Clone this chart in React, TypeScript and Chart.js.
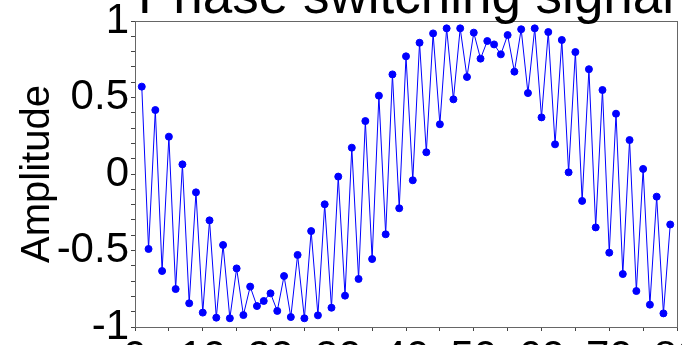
import { useEffect, useRef } from "react";
import { Chart, registerables } from "chart.js";

Chart.register(...registerables);

const TITLE = "Phase switching signal";
const Y_LABEL = "Amplitude";

// sample index starts at 1
const FIRST_SAMPLE = 1;
const AMPLITUDE = [
  0.571, -0.49, 0.418, -0.634, 0.244, -0.752, 0.063, -0.845, -0.12, -0.906,
  -0.303, -0.939, -0.464, -0.943, -0.617, -0.922, -0.736, -0.863, -0.83, -0.78,
  -0.895, -0.667, -0.935, -0.529, -0.943, -0.373, -0.924, -0.198, -0.874, -0.017,
  -0.795, 0.172, -0.686, 0.346, -0.556, 0.512, -0.394, 0.651, -0.224, 0.769,
  -0.041, 0.858, 0.142, 0.919, 0.325, 0.952, 0.488, 0.952, 0.634, 0.924,
  0.754, 0.869, 0.847, 0.782, 0.908, 0.669, 0.946, 0.529, 0.952, 0.37,
  0.928, 0.194, 0.876, 0.011, 0.797, -0.176, 0.685, -0.349, 0.549, -0.514,
  0.394, -0.654, 0.222, -0.765, 0.033, -0.854, -0.148, -0.911, -0.33,
];

const X_MIN = 0;
const X_MAX = 80;
const X_STEP = 5;
const X_LABEL_STEP = 10;
const Y_MIN = -1;
const Y_MAX = 1;
const Y_STEP = 0.1;
const Y_LABEL_STEP = 0.5;

const FONT = '"Liberation Sans", Arial, sans-serif';
const CANVAS_W = 682;
const CANVAS_H = 450;
const CANVAS_TOP = -50;

const titlePlugin = {
  id: "cutTitle",
  afterDraw(chart: any) {
    const { ctx, chartArea } = chart;
    ctx.save();
    ctx.font = `53px ${FONT}`;
    ctx.fillStyle = "#000";
    ctx.textAlign = "center";
    ctx.textBaseline = "alphabetic";
    ctx.fillText(TITLE, (chartArea.left + chartArea.right) / 2, chartArea.top - 8);
    ctx.restore();
  },
};

const framePlugin = {
  id: "frame",
  beforeDatasetsDraw(chart: any) {
    const { ctx, chartArea } = chart;
    ctx.save();
    ctx.strokeStyle = "#666";
    ctx.lineWidth = 1;
    ctx.strokeRect(
      Math.round(chartArea.left) + 0.5,
      Math.round(chartArea.top) + 0.5,
      Math.round(chartArea.right - chartArea.left),
      Math.round(chartArea.bottom - chartArea.top)
    );
    ctx.restore();
  },
};

function isMultiple(v: number, step: number) {
  const r = v / step;
  return Math.abs(r - Math.round(r)) < 1e-6;
}

export default function App() {
  const ref = useRef<HTMLCanvasElement | null>(null);

  useEffect(() => {
    if (!ref.current) return;
    const points = AMPLITUDE.map((y, i) => ({ x: FIRST_SAMPLE + i, y }));
    const chart = new Chart(ref.current, {
      type: "line",
      data: {
        datasets: [
          {
            data: points,
            borderColor: "#0000ff",
            backgroundColor: "#0000ff",
            borderWidth: 1,
            pointRadius: 3.5,
            pointBorderWidth: 1,
            pointBackgroundColor: "#0000ff",
            pointBorderColor: "#0000ff",
            tension: 0,
            fill: false,
          },
        ],
      },
      options: {
        animation: false,
        responsive: false,
        maintainAspectRatio: false,
        devicePixelRatio: 1,
        layout: { padding: { top: 71, right: 5, bottom: 0, left: 0 } },
        plugins: {
          legend: { display: false },
          tooltip: { enabled: false },
          title: { display: false },
        },
        scales: {
          x: {
            type: "linear",
            min: X_MIN,
            max: X_MAX,
            afterFit: (s: any) => {
              s.height = 73;
              s.paddingLeft = 0;
              s.paddingRight = 0;
            },
            grid: {
              drawOnChartArea: false,
              tickLength: 4,
              color: "#444",
            },
            border: { display: true, color: "#444", width: 1 },
            ticks: {
              stepSize: X_STEP,
              autoSkip: false,
              maxRotation: 0,
              minRotation: 0,
              padding: 2,
              color: "#000",
              font: { family: FONT, size: 42 },
              callback: (v: any) => (isMultiple(Number(v), X_LABEL_STEP) ? String(Math.round(Number(v))) : ""),
            },
          },
          y: {
            type: "linear",
            min: Y_MIN,
            max: Y_MAX,
            afterFit: (s: any) => {
              s.width = 135;
              s.paddingTop = 0;
              s.paddingBottom = 0;
            },
            grid: {
              drawOnChartArea: false,
              tickLength: 4,
              color: "#444",
            },
            border: { display: true, color: "#444", width: 1 },
            title: {
              display: true,
              text: Y_LABEL,
              color: "#000",
              font: { family: FONT, size: 40 },
              padding: { top: 14, bottom: 0 },
            },
            ticks: {
              stepSize: Y_STEP,
              autoSkip: false,
              padding: 2,
              color: "#000",
              font: { family: FONT, size: 42 },
              callback: (v: any) => {
                const n = Number(v);
                if (!isMultiple(n, Y_LABEL_STEP)) return "";
                return String(Math.round(n * 10) / 10);
              },
            },
          },
        },
      },
      plugins: [framePlugin, titlePlugin],
    });
    return () => chart.destroy();
  }, []);

  return (
    <div
      style={{
        position: "fixed",
        left: 0,
        top: CANVAS_TOP,
        width: CANVAS_W,
        height: CANVAS_H,
        background: "#fff",
      }}
    >
      <canvas ref={ref} width={CANVAS_W} height={CANVAS_H} style={{ width: CANVAS_W, height: CANVAS_H, display: "block" }} />
    </div>
  );
}
